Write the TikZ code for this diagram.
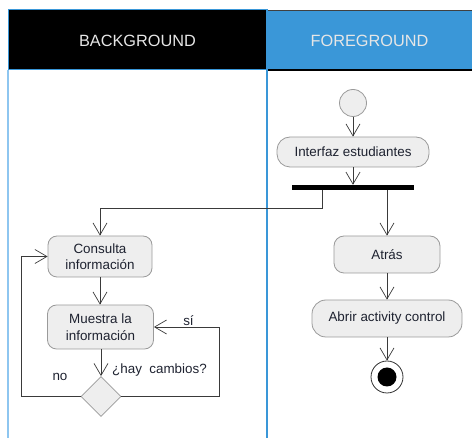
\documentclass[tikz,border=0pt]{standalone}
\usepackage{fontspec}
\setmainfont{Liberation Sans}
\usetikzlibrary{arrows.meta,shapes.geometric}
\definecolor{laneblue}{HTML}{3A97D8}
\definecolor{lanelight}{HTML}{8EC6F0}
\definecolor{actfill}{HTML}{EEEEEE}
\definecolor{actline}{HTML}{9A9A9A}
\definecolor{flow}{HTML}{3A3A3A}
\definecolor{headtext}{HTML}{E6E6E6}
\definecolor{labeltext}{HTML}{1E2230}
\begin{document}
\begin{tikzpicture}[x=1pt,y=-1pt,
  action/.style={draw=actline, fill=actfill, line width=0.8pt, inner sep=0pt,
    align=center, text=labeltext, font=\fontsize{13.4}{16.5}\selectfont},
  flowline/.style={draw=flow, line width=0.9pt,
    -{Straight Barb[length=12pt,width=14pt,line width=0.7pt]}},
  guard/.style={text=labeltext, font=\fontsize{13.4}{16}\selectfont, inner sep=0pt},
  headlabel/.style={text=headtext, font=\fontsize{16.3}{18}\selectfont, inner sep=0pt}
]
\useasboundingbox (0,0) rectangle (472,438);

% swimlane headers
\fill[black] (8,10) rectangle (267,70);
\draw[laneblue, line width=1pt] (8,10) rectangle (267,70);
\fill[laneblue] (267,10) rectangle (472,70);
\draw[black!75, line width=1pt] (267,10.5) -- (472,10.5);
\draw[black, line width=1.2pt] (267,70) -- (472,70);
\node[headlabel] (bghead) at (137.5,41) {BACKGROUND};
\node[headlabel] (fghead) at (369.5,41) {FOREGROUND};

% lane separators
\draw[lanelight, line width=2pt] (8,70) -- (8,438);
\draw[laneblue, line width=1.6pt] (267,10) -- (267,438);

% foreground lane
\node[circle, draw=actline, fill=actfill, line width=0.8pt, minimum size=27pt, inner sep=0pt] (start) at (353,103) {};
\node[action, rounded corners=13pt, minimum width=152pt, minimum height=30pt] (ui) at (353,152) {Interfaz estudiantes};
\node[fill=black, minimum width=122pt, minimum height=5pt, inner sep=0pt] (fork) at (353,187.5) {};
\node[action, rounded corners=10pt, minimum width=106pt, minimum height=37pt] (back) at (387,254.5) {Atrás};
\node[action, rounded corners=14pt, minimum width=150pt, minimum height=37pt] (open) at (387,318.5) {Abrir activity control};
\node[circle, draw=black!80, fill=white, line width=0.8pt, minimum size=32pt, inner sep=0pt] (stop) at (387,377) {};
\node[circle, fill=black, minimum size=19pt, inner sep=0pt] (stopdot) at (stop.center) {};

% background lane
\node[action, rounded corners=9pt, minimum width=104pt, minimum height=41pt] (query) at (100,256.5) {Consulta\\información};
\node[action, rounded corners=9pt, minimum width=106pt, minimum height=44pt] (show) at (100.5,327) {Muestra la\\información};
\node[diamond, draw=actline, fill=actfill, line width=0.8pt, minimum width=40pt, minimum height=40pt, inner sep=0pt] (check) at (101,396.5) {};

\coordinate (forkL) at (322,190);
\coordinate (forkR) at (387,190);
\coordinate (siCorner) at (219,396.5);
\coordinate (noCorner) at (21,396.5);

% flows
\draw[flowline] (start) -- (ui);
\draw[flowline] (ui) -- (fork);
\draw[flowline] (forkL) |- (100,208) -- (query.north -| 100,0);
\draw[flowline] (forkR) -- (back);
\draw[flowline] (back) -- (open);
\draw[flowline] (open) -- (stop);
\draw[flowline] (query) -- (query |- show.north);
\draw[flowline] (show.south -| check) -- (check);
\draw[flowline] (check.east) -- (siCorner) |- (show.east);
\draw[flowline] (check.west) -- (noCorner) |- (query.west);

% guards
\node[guard, anchor=west] (question) at (112,370) {¿hay\ \ cambios?};
\node[guard] (yes) at (188.5,321) {sí};
\node[guard] (no) at (60,377) {no};
\end{tikzpicture}
\end{document}
